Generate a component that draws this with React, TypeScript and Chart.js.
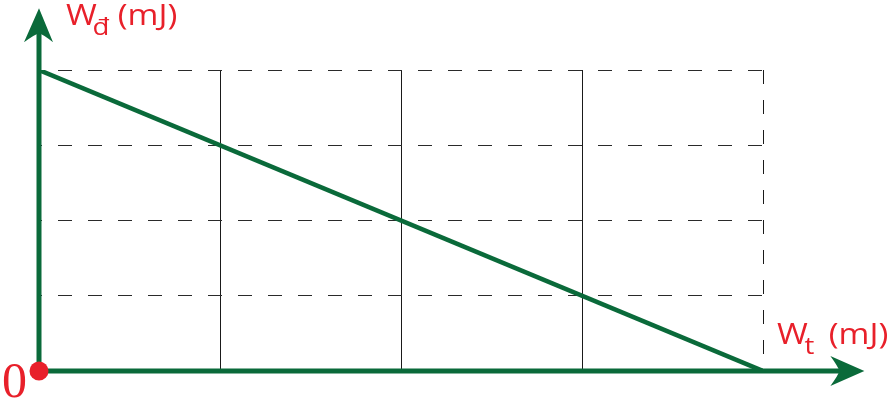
import React, { useEffect, useRef } from "react";
import { Chart, registerables } from "chart.js";

Chart.register(...registerables);

// Data (grid units)
const lineX = [0, 4];
const lineY = [4, 0];
const xTicks = [0, 1, 2, 3, 4];
const yTicks = [0, 1, 2, 3, 4];
const axisMaxX = 4.56; // arrow tip of Wt axis
const axisMaxY = 4.82; // arrow tip of Wđ axis
const yAxisLabel = { main: "W", sub: "đ", unit: "(mJ)" };
const xAxisLabel = { main: "W", sub: "t", unit: "(mJ)" };
const originLabel = "0";

const GREEN = "#0a6a3a";
const RED = "#e8202a";

const decorPlugin = {
  id: "decor",
  afterDatasetsDraw(chart: any) {
    const { ctx, scales } = chart;
    const xs = scales.x;
    const ys = scales.y;
    const x0 = xs.getPixelForValue(0);
    const y0 = ys.getPixelForValue(0);
    const xTip = xs.getPixelForValue(axisMaxX);
    const yTip = ys.getPixelForValue(axisMaxY);
    ctx.save();
    // axes
    ctx.strokeStyle = GREEN;
    ctx.fillStyle = GREEN;
    ctx.lineWidth = 5;
    ctx.beginPath();
    ctx.moveTo(x0, y0);
    ctx.lineTo(x0, yTip + 20);
    ctx.moveTo(x0, y0);
    ctx.lineTo(xTip - 20, y0);
    ctx.stroke();
    // y arrow head
    ctx.beginPath();
    ctx.moveTo(x0, yTip);
    ctx.lineTo(x0 + 14, yTip + 34);
    ctx.quadraticCurveTo(x0 + 4, yTip + 26, x0, yTip + 25);
    ctx.quadraticCurveTo(x0 - 4, yTip + 26, x0 - 15, yTip + 34);
    ctx.closePath();
    ctx.fill();
    // x arrow head
    ctx.beginPath();
    ctx.moveTo(xTip, y0);
    ctx.lineTo(xTip - 34, y0 - 15);
    ctx.quadraticCurveTo(xTip - 26, y0 - 4, xTip - 25, y0);
    ctx.quadraticCurveTo(xTip - 26, y0 + 4, xTip - 34, y0 + 15);
    ctx.closePath();
    ctx.fill();

    // origin dot
    ctx.fillStyle = RED;
    ctx.beginPath();
    ctx.arc(x0, y0, 9.5, 0, Math.PI * 2);
    ctx.fill();

    // origin label
    ctx.font = "50px 'Liberation Serif'";
    ctx.textBaseline = "alphabetic";
    ctx.textAlign = "left";
    ctx.fillText(originLabel, x0 - 37, y0 + 26);

    const drawLabel = (lab: any, x: number, yb: number, subDx: number, subDy: number, unitDx: number) => {
      ctx.save();
      ctx.translate(x, yb);
      ctx.scale(1.15, 1);
      ctx.font = "29px 'Open Sans'";
      ctx.fillText(lab.main, 0, 0);
      ctx.font = "24px 'Open Sans'";
      ctx.fillText(lab.sub, subDx, subDy);
      ctx.font = "29px 'Open Sans'";
      ctx.fillText(lab.unit, unitDx, 0);
      ctx.restore();
    };
    drawLabel(yAxisLabel, x0 + 27, ys.getPixelForValue(4) - 45, 23, 10, 45);
    drawLabel(xAxisLabel, xs.getPixelForValue(4) + 14, y0 - 27, 24, 10, 45);
    ctx.restore();
  },
};

export default function App() {
  const ref = useRef<HTMLCanvasElement>(null);
  useEffect(() => {
    document.body.style.margin = "0";
    const chart = new Chart(ref.current!, {
      type: "scatter",
      data: {
        datasets: [
          {
            data: lineX.map((x, i) => ({ x, y: lineY[i] })),
            showLine: true,
            borderColor: GREEN,
            borderWidth: 4.5,
            pointRadius: 0,
          },
        ],
      },
      options: {
        responsive: false,
        animation: false,
        devicePixelRatio: 1,
        layout: { padding: { left: 39, right: 130, top: 70, bottom: 44 } },
        plugins: { legend: { display: false }, tooltip: { enabled: false } },
        scales: {
          x: {
            type: "linear",
            min: xTicks[0],
            max: xTicks[xTicks.length - 1],
            afterBuildTicks: (s: any) => {
              s.ticks = xTicks.map((v) => ({ value: v }));
            },
            ticks: { display: false },
            grid: {
              drawTicks: false,
              lineWidth: 1,
              color: (c: any) => (c.tick && c.tick.value === 0 ? "rgba(0,0,0,0)" : "#1a1a1a"),
            },
            border: {
              display: false,
              dash: (c: any) => (c.tick && c.tick.value === 4 ? [14, 16] : []),
            },
          },
          y: {
            type: "linear",
            min: yTicks[0],
            max: yTicks[yTicks.length - 1],
            afterBuildTicks: (s: any) => {
              s.ticks = yTicks.map((v) => ({ value: v }));
            },
            ticks: { display: false },
            grid: {
              drawTicks: false,
              lineWidth: 1,
              color: (c: any) => (c.tick && c.tick.value === 0 ? "rgba(0,0,0,0)" : "#2a2a2a"),
            },
            border: { display: false, dash: [14, 16], dashOffset: 11 },
          },
        },
      },
      plugins: [decorPlugin],
    } as any);
    return () => chart.destroy();
  }, []);
  return (
    <div style={{ position: "absolute", left: 0, top: 0, width: 893, height: 415 }}>
      <canvas ref={ref} width={893} height={415} />
    </div>
  );
}
